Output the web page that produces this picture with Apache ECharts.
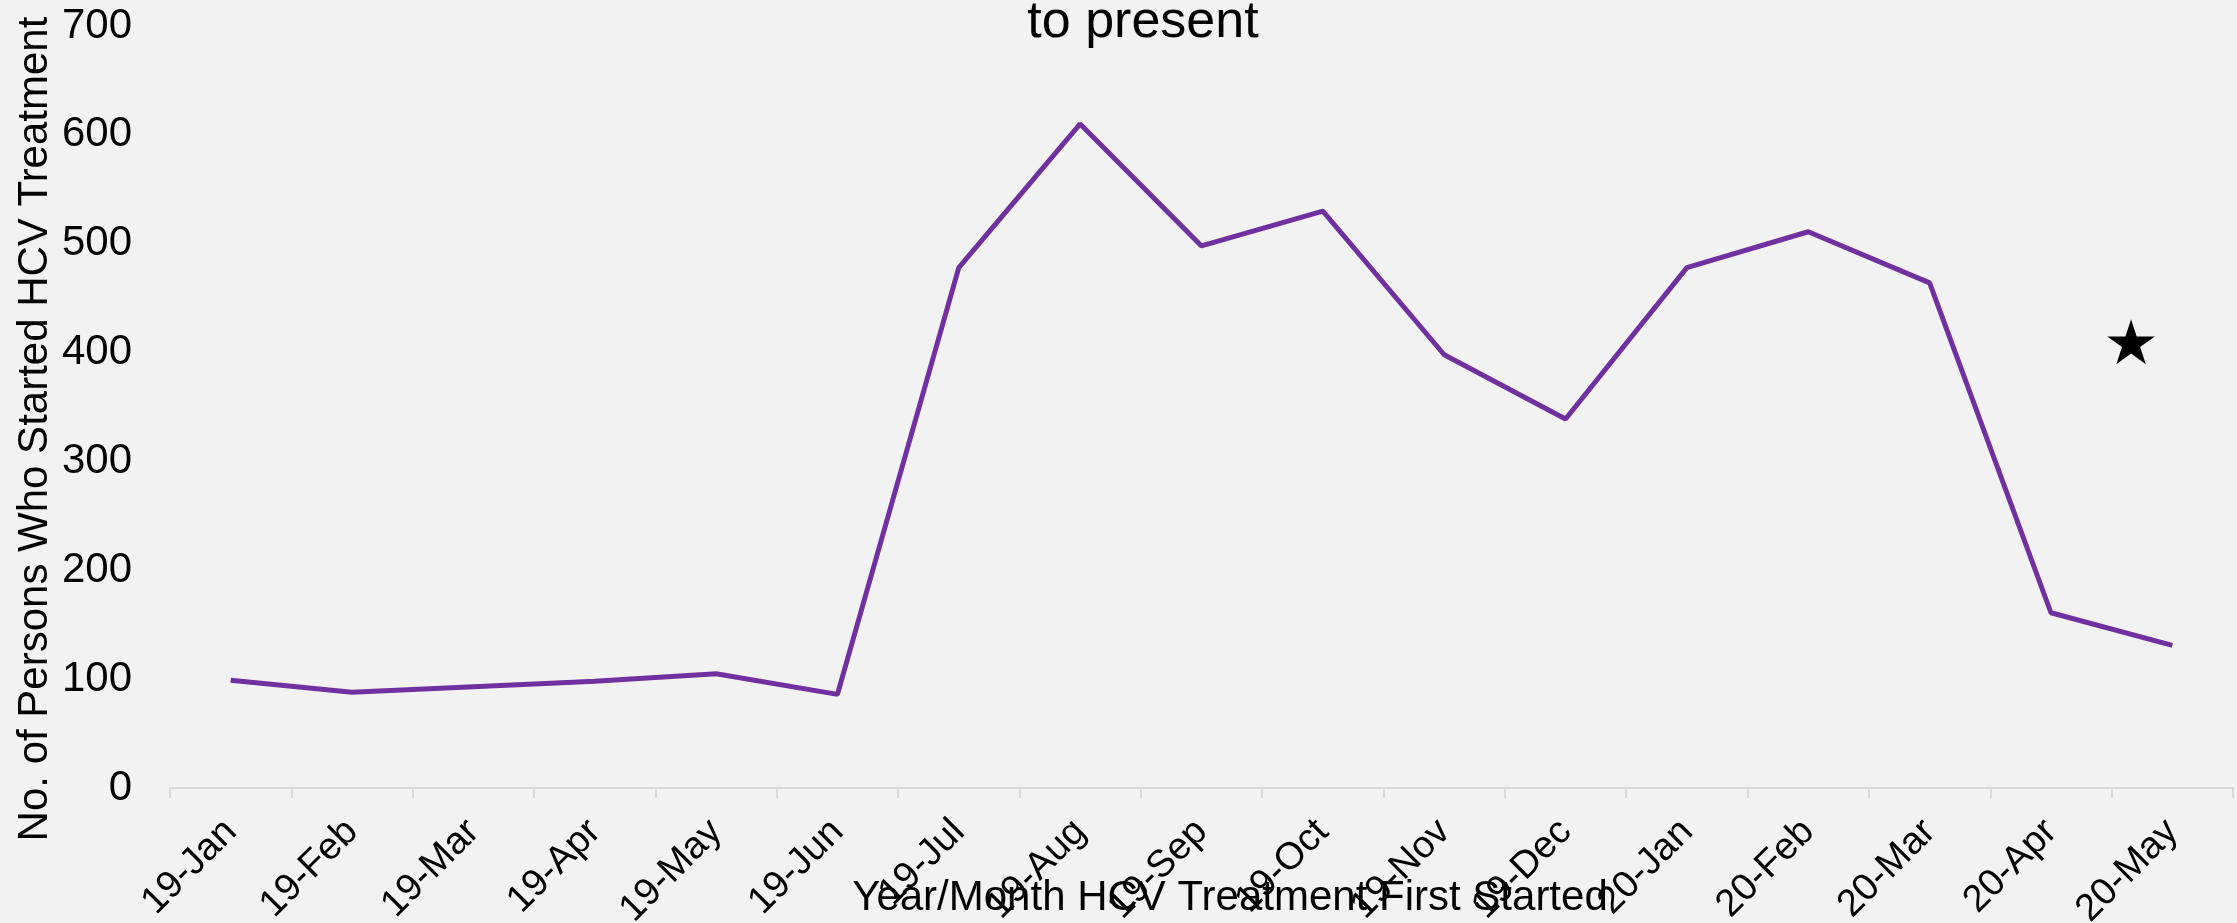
<!DOCTYPE html>
<html>
<head>
<meta charset="utf-8">
<title>HCV treatment starts</title>
<script src="https://cdn.jsdelivr.net/npm/echarts@6/dist/echarts.min.js"></script>
<style>
    html, body {
        margin: 0;
        padding: 0;
        background: #f2f2f2;
    }
    #chart {
        width: 2237px;
        height: 923px;
    }
</style>
</head>
<body>
<div id="chart"></div>
<script>
// months on the x axis
const months = ['19-Jan', '19-Feb', '19-Mar', '19-Apr', '19-May', '19-Jun', '19-Jul', '19-Aug', '19-Sep',
    '19-Oct', '19-Nov', '19-Dec', '20-Jan', '20-Feb', '20-Mar', '20-Apr', '20-May'];

// persons who started HCV treatment
const persons = [99, 88, 93, 98, 105, 86, 478, 610, 498, 530, 398, 339, 478, 511, 464, 161, 131];

const yTicks = { min: 0, max: 700, step: 100 };

const titleText = 'to present';
const xName = 'Year/Month HCV Treatment First Started';
const yName = 'No. of Persons Who Started HCV Treatment';
const noteMark = '★';

const font = "'Liberation Sans', Arial, sans-serif";

let mychart = echarts.init(document.getElementById('chart'));

const option = {
    backgroundColor: '#f2f2f2',
    animation: false,
    textStyle: {
        fontFamily: font,
        color: '#000'
    },
    grid: {
        left: 170,
        right: 4,
        top: 26,
        bottom: 135,
        containLabel: false,
        outerBoundsMode: 'none'
    },
    xAxis: {
        type: 'category',
        data: months,
        boundaryGap: true,
        axisLine: {
            lineStyle: { color: '#d9d9d9', width: 2 }
        },
        axisTick: {
            show: true,
            length: 10,
            lineStyle: { color: '#d9d9d9', width: 2 }
        },
        axisLabel: {
            interval: 0,
            rotate: 45,
            margin: 38,
            fontSize: 38,
            fontFamily: font,
            color: '#000'
        },
        splitLine: { show: false }
    },
    yAxis: {
        type: 'value',
        min: yTicks.min,
        max: yTicks.max,
        interval: yTicks.step,
        axisLine: { show: false },
        axisTick: { show: false },
        splitLine: { show: false },
        axisLabel: {
            margin: 38,
            fontSize: 42,
            fontFamily: font,
            color: '#000'
        }
    },
    graphic: [
        {
            type: 'text',
            x: 1143,
            y: 23,
            style: {
                text: titleText,
                align: 'center',
                verticalAlign: 'middle',
                font: '52px ' + font,
                fill: '#000'
            }
        },
        {
            type: 'text',
            x: 1230,
            y: 898,
            style: {
                text: xName,
                align: 'center',
                verticalAlign: 'middle',
                font: '42px ' + font,
                fill: '#000'
            }
        },
        {
            type: 'text',
            x: 35,
            y: 429,
            rotation: Math.PI / 2,
            style: {
                text: yName,
                align: 'center',
                verticalAlign: 'middle',
                font: '42px ' + font,
                fill: '#000'
            }
        },
        {
            type: 'text',
            x: 2131,
            y: 348,
            style: {
                text: noteMark,
                align: 'center',
                verticalAlign: 'middle',
                font: "62px 'DejaVu Sans', sans-serif",
                fill: '#000'
            }
        }
    ],
    series: [
        {
            name: 'Persons',
            type: 'line',
            data: persons,
            showSymbol: false,
            symbol: 'none',
            smooth: false,
            lineStyle: {
                color: '#7030a0',
                width: 5
            }
        }
    ]
};

mychart.setOption(option);
</script>
</body>
</html>
